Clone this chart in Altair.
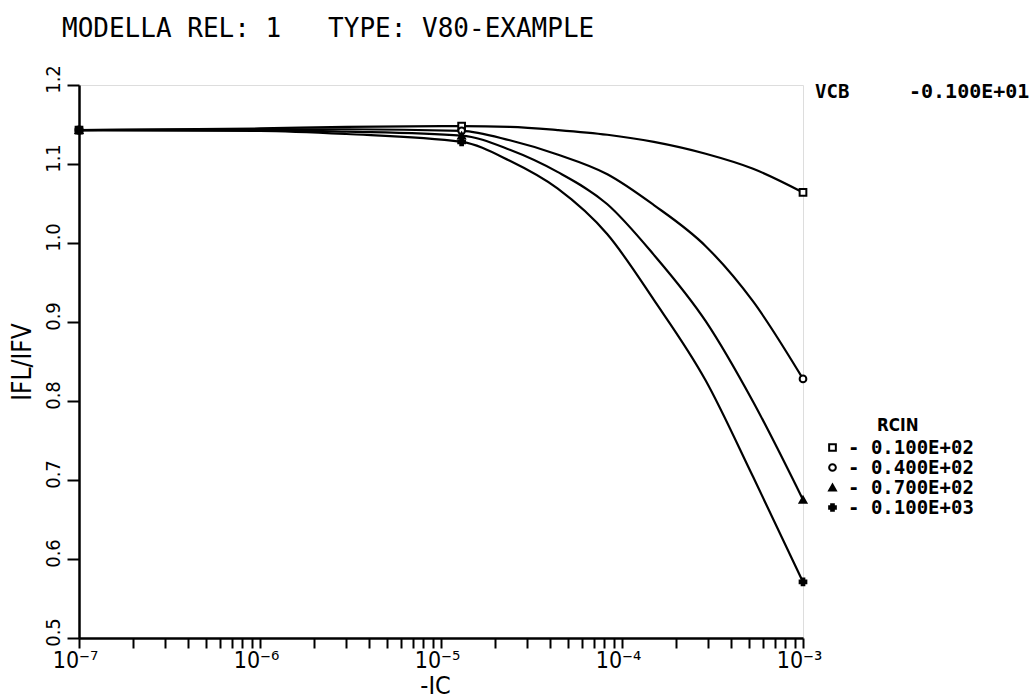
import altair as alt
import pandas as pd

# ---- data ----
ic = [1e-7, 1e-6, 3e-6, 1.3e-5, 2.4e-5, 4.4e-5, 8.3e-5, 1.5e-4, 2.9e-4, 5.3e-4, 1e-3]
rcin_labels = ["0.100E+02", "0.400E+02", "0.700E+02", "0.100E+03"]
ratio_r10 = [1.143, 1.145, 1.147, 1.148, 1.147, 1.143, 1.137, 1.128, 1.113, 1.094, 1.064]
ratio_r40 = [1.143, 1.144, 1.144, 1.142, 1.130, 1.112, 1.087, 1.048, 0.996, 0.926, 0.828]
ratio_r70 = [1.143, 1.143, 1.141, 1.136, 1.118, 1.090, 1.049, 0.985, 0.901, 0.799, 0.675]
ratio_r100 = [1.143, 1.142, 1.138, 1.128, 1.104, 1.069, 1.011, 0.928, 0.826, 0.704, 0.571]
marker_idx = [0, 3, 10]
shapes = ["square", "circle", "triangle-up", "cross"]
fills = ["white", "white", "black", "black"]
strokes = ["black", "black", "black", "black"]
decades = [1e-7, 1e-6, 1e-5, 1e-4, 1e-3]
decade_labels = ["10⁻⁷", "10⁻⁶", "10⁻⁵", "10⁻⁴", "10⁻³"]
y_ticks = [0.5, 0.6, 0.7, 0.8, 0.9, 1.0, 1.1, 1.2]
title_text = "MODELLA REL: 1\u00a0\u00a0\u00a0TYPE: V80-EXAMPLE"
vcb_name = "VCB"
vcb_value = "-0.100E+01"
legend_title = "RCIN"

series = [ratio_r10, ratio_r40, ratio_r70, ratio_r100]
rows = []
for lab, vals in zip(rcin_labels, series):
    for i, (x, y) in enumerate(zip(ic, vals)):
        rows.append({"ic": x, "ratio": y, "rcin": lab, "marker": i in marker_idx})
df = pd.DataFrame(rows)

x_ticks = []
for d in decades[:-1]:
    for m in range(1, 10):
        x_ticks.append(round(d * m, 12))
x_ticks.append(decades[-1])

label_expr = "''"
for d, l in zip(reversed(decades), reversed(decade_labels)):
    label_expr = f"abs(datum.value - {d}) < {d}*0.01 ? '{l}' : ({label_expr})"

SANS = "DejaVu Sans Condensed, DejaVu Sans, sans-serif"
MONO = "DejaVu Sans Mono, Liberation Mono, monospace"

xenc = alt.X("ic:Q", scale=alt.Scale(type="log", domain=[1e-7, 1e-3]),
             axis=alt.Axis(values=x_ticks, labelExpr=label_expr, tickSize=10, tickWidth=2,
                           domainWidth=2.5, domainColor="black", tickColor="black",
                           labelFont=SANS, labelFontSize=23, labelColor="black",
                           labelPadding=1, labelFlush=False, labelOverlap=False,
                           labelOffset=-4, grid=False,
                           title="-IC", titleFont=SANS, titleFontSize=25,
                           titleFontWeight="normal", titleColor="black",
                           titleX=356, titleY=55, titleBaseline="alphabetic"))
yenc = alt.Y("ratio:Q", scale=alt.Scale(domain=[0.5, 1.2]),
             axis=alt.Axis(values=y_ticks, format=".1f", tickSize=12, tickWidth=2,
                           domainWidth=2.5, domainColor="black", tickColor="black",
                           labelFont=SANS, labelFontSize=20, labelColor="black",
                           labelAngle=270, labelAlign="center", labelBaseline="bottom",
                           labelPadding=4, labelOffset=-6, grid=False,
                           title="IFL/IFV", titleFont=SANS, titleFontSize=26,
                           titleFontWeight="normal", titleColor="black", titlePadding=8))

lines = alt.Chart(df).mark_line(interpolate="monotone", color="black", strokeWidth=2.2).encode(
    x=xenc, y=yenc, detail="rcin:N")

legend = alt.Legend(title=None, orient="none", legendX=744, legendY=353,
                    labelExpr="'-  ' + datum.label", labelFont=MONO, labelFontSize=19,
                    labelFontWeight="bold", labelColor="black", labelOffset=6,
                    symbolStrokeWidth=2, symbolSize=45, rowPadding=0)

points = alt.Chart(df).transform_filter("datum.marker").mark_point(
    filled=True, strokeWidth=2, size=45, opacity=1).encode(
    x=xenc, y=yenc,
    shape=alt.Shape("rcin:N", scale=alt.Scale(domain=rcin_labels, range=shapes), legend=legend),
    fill=alt.Fill("rcin:N", scale=alt.Scale(domain=rcin_labels, range=fills), legend=legend),
    stroke=alt.Stroke("rcin:N", scale=alt.Scale(domain=rcin_labels, range=strokes), legend=legend),
)

def label(text, x, y, font, size, weight="normal", align="left"):
    return alt.Chart(pd.DataFrame({"t": [text]})).mark_text(
        font=font, fontSize=size, fontWeight=weight, align=align, baseline="middle",
        color="black").encode(text="t:N", x=alt.value(x), y=alt.value(y))

title = label(title_text, -17, -56, MONO, 26)
vcb1 = label(vcb_name, 736, 7, MONO, 19, "bold")
vcb2 = label(vcb_value, 830, 7, MONO, 20, "bold")
rcin = label(legend_title, 798, 341, SANS, 17, "bold")

chart = alt.layer(lines, points, title, vcb1, vcb2, rcin).properties(
    width=724, height=553,
    autosize=alt.AutoSizeParams(type="none"),
    padding={"left": 79, "top": 85, "right": 227, "bottom": 60},
).configure_view(stroke=None).configure(background="white")

chart.save("out.html", embed_options={"renderer": "svg", "actions": False})
